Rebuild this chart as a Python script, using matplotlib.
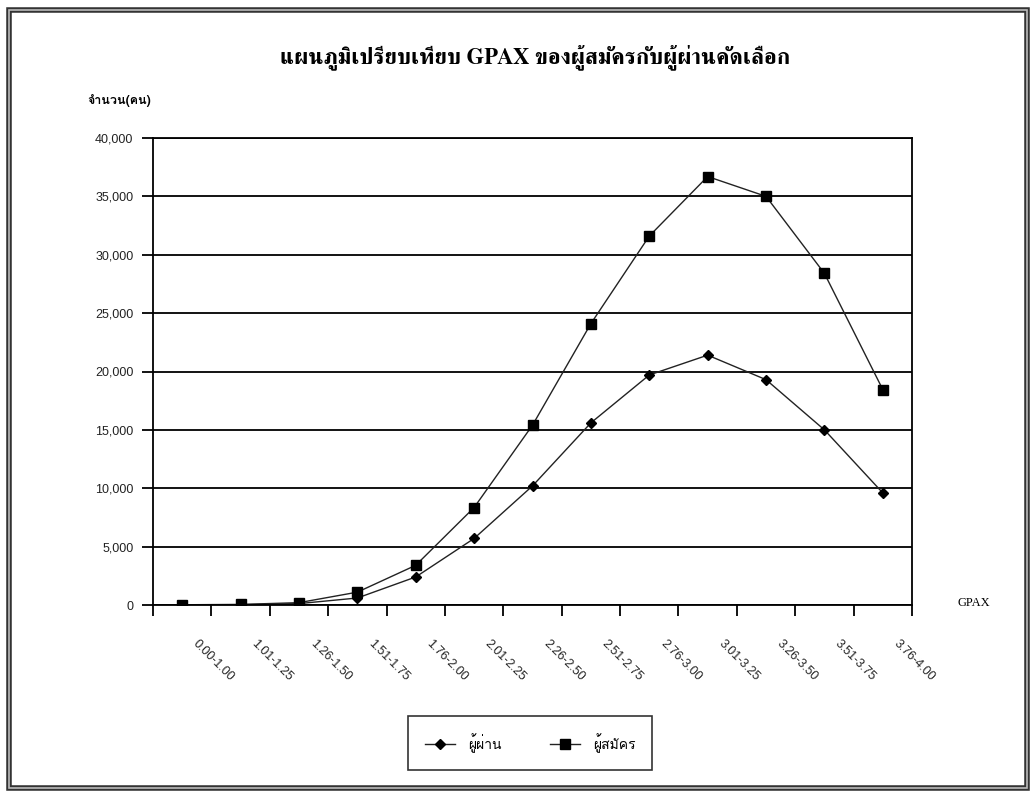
import matplotlib
matplotlib.use("Agg")
import matplotlib.pyplot as plt
from matplotlib.transforms import ScaledTranslation
from matplotlib.patches import Rectangle
from matplotlib.lines import Line2D
import numpy as np

categories = ["0.00-1.00", "1.01-1.25", "1.26-1.50", "1.51-1.75", "1.76-2.00",
              "2.01-2.25", "2.26-2.50", "2.51-2.75", "2.76-3.00", "3.01-3.25",
              "3.26-3.50", "3.51-3.75", "3.76-4.00"]
passed = [10, 20, 120, 600, 2400, 5700, 10200, 15600, 19700, 21400, 19300, 15000, 9600]
applicants = [20, 50, 200, 1100, 3400, 8350, 15400, 24100, 31600, 36700, 35000, 28400, 18450]
series_names = ["ผู้ผ่าน", "ผู้สมัคร"]
title = "แผนภูมิเปรียบเทียบ GPAX ของผู้สมัครกับผู้ผ่านคัดเลือก"
ylabel = "จำนวน(คน)"
xlabel = "GPAX"

fam_sans = ["Loma", "Garuda", "Anuphan", "DejaVu Sans"]
fam_serif = ["FreeSerif", "Norasi", "Anuphan", "DejaVu Serif"]

fig = plt.figure(figsize=(10.35, 7.92), dpi=100)
ax = fig.add_axes([153/1035, 1-605/792, (912-153)/1035, (605-138)/792])

x = np.arange(len(categories))
ax.plot(x, passed, color="#222222", lw=1.0, marker="D", ms=5.5, mfc="black", mec="black")
ax.plot(x, applicants, color="#222222", lw=1.0, marker="s", ms=7, mfc="black", mec="black")

ax.set_xlim(-0.5, len(categories)-0.5)
ax.set_ylim(0, 40000)
ax.set_yticks(np.arange(0, 40001, 5000))
ax.set_yticklabels([f"{v:,}" for v in range(0, 40001, 5000)], fontsize=9,
                   family=["Liberation Sans"], color="#222222")
ax.yaxis.grid(True, color="black", lw=1.3)
ax.set_axisbelow(True)
ax.tick_params(axis="y", length=8, width=1.3, pad=6, color="black")

ax.set_xticks(x)
ax.set_xticklabels(categories, rotation=-45, ha="left", va="top", rotation_mode="anchor",
                   fontsize=9, family=["Liberation Sans"], color="#222222")
ax.tick_params(axis="x", which="major", length=0)
ax.set_xticks(np.arange(-0.5, len(categories), 1.0), minor=True)
ax.tick_params(axis="x", which="minor", length=8, width=1.3, direction="out", color="black")
for lab in ax.get_xticklabels():
    lab.set_transform(lab.get_transform() + ScaledTranslation(0.17, -0.28, fig.dpi_scale_trans))

for s in ["left", "right", "bottom", "top"]:
    ax.spines[s].set_color("black")
    ax.spines[s].set_linewidth(1.3)

fig.text(535/1035, 1-57/792, title, ha="center", va="center", fontsize=16.3,
         fontweight="bold", family=fam_serif)
fig.text(87/1035, 1-100/792, ylabel, ha="left", va="center", fontsize=9,
         fontweight="bold", family=fam_sans)
fig.text(957/1035, 1-603/792, xlabel, ha="left", va="center", fontsize=9,
         family=["Liberation Serif"])

h1 = Line2D([], [], color="#222222", lw=1.0, marker="D", ms=5.5, mfc="black", mec="black")
h2 = Line2D([], [], color="#222222", lw=1.0, marker="s", ms=7, mfc="black", mec="black")
leg = fig.legend([h1, h2], series_names, loc="center", bbox_to_anchor=(530/1035, 1-743/792),
                 ncol=2, frameon=True, fancybox=False, edgecolor="black",
                 prop={"family": fam_sans, "size": 10}, columnspacing=3.5, handlelength=2.2,
                 borderpad=1.2, handletextpad=0.9)
leg.get_frame().set_linewidth(1.2)

# outer double frame
fig.patches.append(Rectangle((9/1035, 4/792), 1018/1035, 778/792, transform=fig.transFigure,
                             fill=False, lw=4, edgecolor="#333333"))
fig.patches.append(Rectangle((9/1035, 4/792), 1018/1035, 778/792, transform=fig.transFigure,
                             fill=False, lw=1.2, edgecolor="#bbbbbb"))

fig.savefig("out.png", dpi=100)
